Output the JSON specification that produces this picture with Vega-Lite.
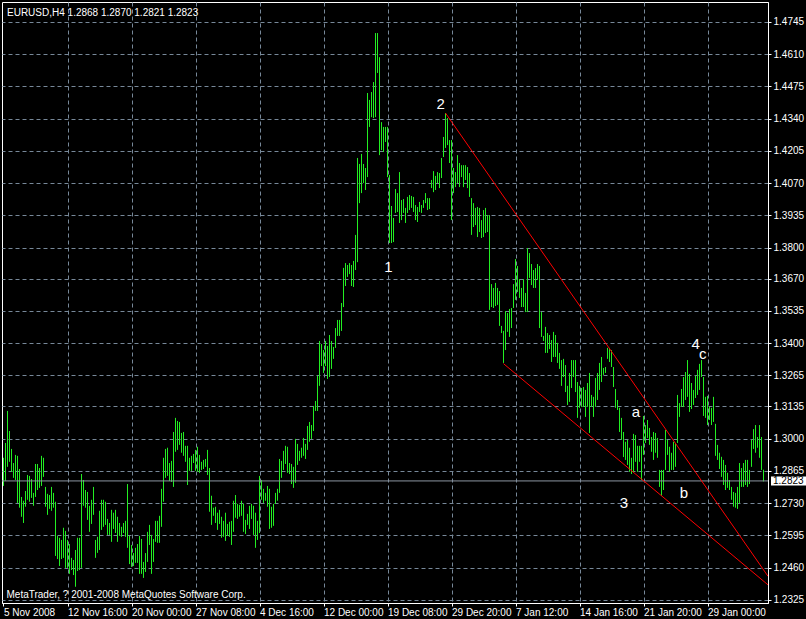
{
"$schema":"https://vega.github.io/schema/vega-lite/v6.json",
"width":766,"height":601,
"autosize":{"type":"none"},
"padding":{"left":2,"top":2,"right":38,"bottom":16},
"background":"#000000",
"view":{"stroke":"#ffffff","strokeWidth":1,"fill":"#000000"},
"config":{"axis":{"labelOverlap":false,"labelFlush":false,"labelBound":false},"axisY":{"labelOverlap":false},"axisRight":{"labelOverlap":false},"axisQuantitative":{"labelOverlap":false,"tickCount":19}},
"title":{"text":"EURUSD,H4  1.2868 1.2870 1.2821 1.2823","anchor":"start","frame":"group","orient":"top","offset":0,"baseline":"alphabetic","dx":5,"dy":24,"color":"#ffffff","font":"Liberation Sans, sans-serif","fontSize":10,"fontWeight":"normal"},
"datasets":{
"bars":[
{"i":0,"h":1.2920,"l":1.2802},{"i":1,"h":1.2982,"l":1.2823},{"i":2,"h":1.3116,"l":1.2882},{"i":3,"h":1.3032,"l":1.2903},{"i":4,"h":1.2957,"l":1.2861},{"i":5,"h":1.2898,"l":1.2836},{"i":6,"h":1.2932,"l":1.2827},{"i":7,"h":1.2928,"l":1.2731},{"i":8,"h":1.2873,"l":1.2711},{"i":9,"h":1.2756,"l":1.2673},
{"i":10,"h":1.2740,"l":1.2647},{"i":11,"h":1.2781,"l":1.2715},{"i":12,"h":1.2848,"l":1.2744},{"i":13,"h":1.2844,"l":1.2736},{"i":14,"h":1.2831,"l":1.2752},{"i":15,"h":1.2773,"l":1.2719},{"i":16,"h":1.2894,"l":1.2756},{"i":17,"h":1.2894,"l":1.2785},{"i":18,"h":1.2877,"l":1.2794},{"i":19,"h":1.2928,"l":1.2802},
{"i":20,"h":1.2920,"l":1.2840},{"i":21,"h":1.2798,"l":1.2715},{"i":22,"h":1.2769,"l":1.2681},{"i":23,"h":1.2764,"l":1.2706},{"i":24,"h":1.2798,"l":1.2698},{"i":25,"h":1.2773,"l":1.2711},{"i":26,"h":1.2736,"l":1.2509},{"i":27,"h":1.2593,"l":1.2496},{"i":28,"h":1.2585,"l":1.2467},{"i":29,"h":1.2576,"l":1.2496},
{"i":30,"h":1.2627,"l":1.2501},{"i":31,"h":1.2614,"l":1.2459},{"i":32,"h":1.2576,"l":1.2459},{"i":33,"h":1.2559,"l":1.2434},{"i":34,"h":1.2501,"l":1.2450},{"i":35,"h":1.2492,"l":1.2429},{"i":36,"h":1.2534,"l":1.2380},{"i":37,"h":1.2585,"l":1.2446},{"i":38,"h":1.2585,"l":1.2450},{"i":39,"h":1.2852,"l":1.2459},
{"i":40,"h":1.2827,"l":1.2719},{"i":41,"h":1.2785,"l":1.2711},{"i":42,"h":1.2777,"l":1.2660},{"i":43,"h":1.2719,"l":1.2610},{"i":44,"h":1.2744,"l":1.2643},{"i":45,"h":1.2798,"l":1.2681},{"i":46,"h":1.2576,"l":1.2501},{"i":47,"h":1.2589,"l":1.2522},{"i":48,"h":1.2698,"l":1.2534},{"i":49,"h":1.2744,"l":1.2618},
{"i":50,"h":1.2744,"l":1.2631},{"i":51,"h":1.2736,"l":1.2639},{"i":52,"h":1.2664,"l":1.2597},{"i":53,"h":1.2647,"l":1.2597},{"i":54,"h":1.2702,"l":1.2568},{"i":55,"h":1.2690,"l":1.2622},{"i":56,"h":1.2702,"l":1.2605},{"i":57,"h":1.2673,"l":1.2568},{"i":58,"h":1.2647,"l":1.2593},{"i":59,"h":1.2631,"l":1.2589},
{"i":60,"h":1.2647,"l":1.2605},{"i":61,"h":1.2656,"l":1.2589},{"i":62,"h":1.2810,"l":1.2543},{"i":63,"h":1.2593,"l":1.2475},{"i":64,"h":1.2555,"l":1.2463},{"i":65,"h":1.2521,"l":1.2467},{"i":66,"h":1.2543,"l":1.2480},{"i":67,"h":1.2559,"l":1.2480},{"i":68,"h":1.2593,"l":1.2434},{"i":69,"h":1.2580,"l":1.2434},
{"i":70,"h":1.2484,"l":1.2417},{"i":71,"h":1.2521,"l":1.2442},{"i":72,"h":1.2610,"l":1.2484},{"i":73,"h":1.2639,"l":1.2555},{"i":74,"h":1.2597,"l":1.2434},{"i":75,"h":1.2580,"l":1.2484},{"i":76,"h":1.2656,"l":1.2568},{"i":77,"h":1.2656,"l":1.2564},{"i":78,"h":1.2677,"l":1.2564},{"i":79,"h":1.2790,"l":1.2631},
{"i":80,"h":1.2920,"l":1.2736},{"i":81,"h":1.2957,"l":1.2836},{"i":82,"h":1.2962,"l":1.2844},{"i":83,"h":1.2898,"l":1.2823},{"i":84,"h":1.2907,"l":1.2819},{"i":85,"h":1.3028,"l":1.2798},{"i":86,"h":1.3087,"l":1.2945},{"i":87,"h":1.3074,"l":1.2953},{"i":88,"h":1.3070,"l":1.2974},{"i":89,"h":1.3024,"l":1.2941},
{"i":90,"h":1.3028,"l":1.2928},{"i":91,"h":1.2970,"l":1.2903},{"i":92,"h":1.2970,"l":1.2806},{"i":93,"h":1.2920,"l":1.2865},{"i":94,"h":1.2928,"l":1.2865},{"i":95,"h":1.2936,"l":1.2898},{"i":96,"h":1.2953,"l":1.2865},{"i":97,"h":1.2966,"l":1.2861},{"i":98,"h":1.2932,"l":1.2857},{"i":99,"h":1.2903,"l":1.2869},
{"i":100,"h":1.2911,"l":1.2873},{"i":101,"h":1.2915,"l":1.2882},{"i":102,"h":1.2953,"l":1.2848},{"i":103,"h":1.2877,"l":1.2694},{"i":104,"h":1.2761,"l":1.2639},{"i":105,"h":1.2711,"l":1.2677},{"i":106,"h":1.2715,"l":1.2647},{"i":107,"h":1.2690,"l":1.2618},{"i":108,"h":1.2702,"l":1.2643},{"i":109,"h":1.2673,"l":1.2585},
{"i":110,"h":1.2656,"l":1.2589},{"i":111,"h":1.2690,"l":1.2572},{"i":112,"h":1.2643,"l":1.2593},{"i":113,"h":1.2652,"l":1.2589},{"i":114,"h":1.2656,"l":1.2555},{"i":115,"h":1.2740,"l":1.2610},{"i":116,"h":1.2764,"l":1.2669},{"i":117,"h":1.2727,"l":1.2664},{"i":118,"h":1.2723,"l":1.2673},{"i":119,"h":1.2740,"l":1.2677},
{"i":120,"h":1.2727,"l":1.2610},{"i":121,"h":1.2660,"l":1.2601},{"i":122,"h":1.2685,"l":1.2639},{"i":123,"h":1.2719,"l":1.2622},{"i":124,"h":1.2727,"l":1.2664},{"i":125,"h":1.2719,"l":1.2597},{"i":126,"h":1.2690,"l":1.2543},{"i":127,"h":1.2656,"l":1.2576},{"i":128,"h":1.2844,"l":1.2605},{"i":129,"h":1.2827,"l":1.2744},
{"i":130,"h":1.2790,"l":1.2731},{"i":131,"h":1.2773,"l":1.2740},{"i":132,"h":1.2802,"l":1.2715},{"i":133,"h":1.2790,"l":1.2622},{"i":134,"h":1.2715,"l":1.2627},{"i":135,"h":1.2727,"l":1.2635},{"i":136,"h":1.2773,"l":1.2727},{"i":137,"h":1.2790,"l":1.2740},{"i":138,"h":1.2915,"l":1.2773},{"i":139,"h":1.2907,"l":1.2836},
{"i":140,"h":1.2949,"l":1.2869},{"i":141,"h":1.2970,"l":1.2894},{"i":142,"h":1.2966,"l":1.2857},{"i":143,"h":1.2898,"l":1.2852},{"i":144,"h":1.2894,"l":1.2810},{"i":145,"h":1.2882,"l":1.2794},{"i":146,"h":1.2999,"l":1.2815},{"i":147,"h":1.2978,"l":1.2890},{"i":148,"h":1.2949,"l":1.2907},{"i":149,"h":1.2962,"l":1.2920},
{"i":150,"h":1.3003,"l":1.2928},{"i":151,"h":1.2978,"l":1.2915},{"i":152,"h":1.3053,"l":1.2953},{"i":153,"h":1.3070,"l":1.2987},{"i":154,"h":1.3057,"l":1.2999},{"i":155,"h":1.3137,"l":1.3032},{"i":156,"h":1.3158,"l":1.3116},{"i":157,"h":1.3263,"l":1.3116},{"i":158,"h":1.3409,"l":1.3221},{"i":159,"h":1.3396,"l":1.3304},
{"i":160,"h":1.3371,"l":1.3275},{"i":161,"h":1.3409,"l":1.3304},{"i":162,"h":1.3388,"l":1.3250},{"i":163,"h":1.3434,"l":1.3258},{"i":164,"h":1.3409,"l":1.3292},{"i":165,"h":1.3384,"l":1.3334},{"i":166,"h":1.3463,"l":1.3380},{"i":167,"h":1.3497,"l":1.3430},{"i":168,"h":1.3497,"l":1.3430},{"i":169,"h":1.3568,"l":1.3451},
{"i":170,"h":1.3715,"l":1.3551},{"i":171,"h":1.3735,"l":1.3639},{"i":172,"h":1.3727,"l":1.3677},{"i":173,"h":1.3735,"l":1.3689},{"i":174,"h":1.3727,"l":1.3639},{"i":175,"h":1.3744,"l":1.3635},{"i":176,"h":1.3853,"l":1.3706},{"i":177,"h":1.4175,"l":1.3739},{"i":178,"h":1.4150,"l":1.3986},{"i":179,"h":1.4192,"l":1.4028},
{"i":180,"h":1.4150,"l":1.4070},{"i":181,"h":1.4133,"l":1.4041},{"i":182,"h":1.4447,"l":1.4095},{"i":183,"h":1.4418,"l":1.4305},{"i":184,"h":1.4451,"l":1.4346},{"i":185,"h":1.4493,"l":1.4342},{"i":186,"h":1.4698,"l":1.4346},{"i":187,"h":1.4698,"l":1.4531},{"i":188,"h":1.4597,"l":1.4187},{"i":189,"h":1.4325,"l":1.4208},
{"i":190,"h":1.4305,"l":1.4200},{"i":191,"h":1.4305,"l":1.4242},{"i":192,"h":1.4305,"l":1.4095},{"i":193,"h":1.4104,"l":1.3819},{"i":194,"h":1.3974,"l":1.3819},{"i":195,"h":1.3924,"l":1.3823},{"i":196,"h":1.4045,"l":1.3945},{"i":197,"h":1.4028,"l":1.3949},{"i":198,"h":1.4116,"l":1.3903},{"i":199,"h":1.3999,"l":1.3915},
{"i":200,"h":1.4003,"l":1.3945},{"i":201,"h":1.3966,"l":1.3903},{"i":202,"h":1.4012,"l":1.3945},{"i":203,"h":1.4020,"l":1.3957},{"i":204,"h":1.4016,"l":1.3966},{"i":205,"h":1.4012,"l":1.3949},{"i":206,"h":1.3978,"l":1.3915},{"i":207,"h":1.3970,"l":1.3907},{"i":208,"h":1.3991,"l":1.3949},{"i":209,"h":1.3978,"l":1.3945},
{"i":210,"h":1.3999,"l":1.3966},{"i":211,"h":1.4028,"l":1.3986},{"i":212,"h":1.4007,"l":1.3957},{"i":213,"h":1.4007,"l":1.3961},{"i":214,"h":1.4083,"l":1.4049},{"i":215,"h":1.4120,"l":1.4032},{"i":216,"h":1.4100,"l":1.4041},{"i":217,"h":1.4116,"l":1.4070},{"i":218,"h":1.4112,"l":1.4049},{"i":219,"h":1.4175,"l":1.4091},
{"i":220,"h":1.4263,"l":1.4179},{"i":221,"h":1.4363,"l":1.4217},{"i":222,"h":1.4342,"l":1.4229},{"i":223,"h":1.4250,"l":1.4154},{"i":224,"h":1.4250,"l":1.3915},{"i":225,"h":1.4133,"l":1.4028},{"i":226,"h":1.4116,"l":1.4053},{"i":227,"h":1.4187,"l":1.4070},{"i":228,"h":1.4154,"l":1.4053},{"i":229,"h":1.4145,"l":1.4095},
{"i":230,"h":1.4145,"l":1.4053},{"i":231,"h":1.4145,"l":1.4083},{"i":232,"h":1.4137,"l":1.4049},{"i":233,"h":1.4112,"l":1.4012},{"i":234,"h":1.4007,"l":1.3853},{"i":235,"h":1.3986,"l":1.3886},{"i":236,"h":1.3966,"l":1.3894},{"i":237,"h":1.3970,"l":1.3844},{"i":238,"h":1.3966,"l":1.3865},{"i":239,"h":1.3915,"l":1.3840},
{"i":240,"h":1.3957,"l":1.3844},{"i":241,"h":1.3966,"l":1.3861},{"i":242,"h":1.3936,"l":1.3865},{"i":243,"h":1.3936,"l":1.3539},{"i":244,"h":1.3647,"l":1.3551},{"i":245,"h":1.3631,"l":1.3547},{"i":246,"h":1.3652,"l":1.3555},{"i":247,"h":1.3631,"l":1.3560},{"i":248,"h":1.3618,"l":1.3472},{"i":249,"h":1.3472,"l":1.3442},
{"i":250,"h":1.3451,"l":1.3317},{"i":251,"h":1.3534,"l":1.3371},{"i":252,"h":1.3526,"l":1.3447},{"i":253,"h":1.3543,"l":1.3426},{"i":254,"h":1.3547,"l":1.3463},{"i":255,"h":1.3647,"l":1.3547},{"i":256,"h":1.3752,"l":1.3581},{"i":257,"h":1.3723,"l":1.3614},{"i":258,"h":1.3668,"l":1.3589},{"i":259,"h":1.3631,"l":1.3551},
{"i":260,"h":1.3668,"l":1.3551},{"i":261,"h":1.3610,"l":1.3530},{"i":262,"h":1.3798,"l":1.3530},{"i":263,"h":1.3777,"l":1.3673},{"i":264,"h":1.3731,"l":1.3643},{"i":265,"h":1.3706,"l":1.3631},{"i":266,"h":1.3714,"l":1.3631},{"i":267,"h":1.3731,"l":1.3664},{"i":268,"h":1.3723,"l":1.3463},{"i":269,"h":1.3530,"l":1.3426},
{"i":270,"h":1.3430,"l":1.3409},{"i":271,"h":1.3468,"l":1.3359},{"i":272,"h":1.3442,"l":1.3359},{"i":273,"h":1.3434,"l":1.3375},{"i":274,"h":1.3413,"l":1.3321},{"i":275,"h":1.3447,"l":1.3342},{"i":276,"h":1.3434,"l":1.3342},{"i":277,"h":1.3401,"l":1.3317},{"i":278,"h":1.3359,"l":1.3292},{"i":279,"h":1.3329,"l":1.3221},
{"i":280,"h":1.3334,"l":1.3258},{"i":281,"h":1.3308,"l":1.3195},{"i":282,"h":1.3221,"l":1.3141},{"i":283,"h":1.3275,"l":1.3154},{"i":284,"h":1.3329,"l":1.3212},{"i":285,"h":1.3329,"l":1.3258},{"i":286,"h":1.3329,"l":1.3195},{"i":287,"h":1.3237,"l":1.3087},{"i":288,"h":1.3221,"l":1.3129},{"i":289,"h":1.3212,"l":1.3133},
{"i":290,"h":1.3216,"l":1.3133},{"i":291,"h":1.3204,"l":1.3091},{"i":292,"h":1.3233,"l":1.3133},{"i":293,"h":1.3275,"l":1.3024},{"i":294,"h":1.3183,"l":1.3133},{"i":295,"h":1.3175,"l":1.3091},{"i":296,"h":1.3254,"l":1.3133},{"i":297,"h":1.3275,"l":1.3162},{"i":298,"h":1.3317,"l":1.3204},{"i":299,"h":1.3342,"l":1.3237},
{"i":300,"h":1.3296,"l":1.3267},{"i":301,"h":1.3300,"l":1.3275},{"i":302,"h":1.3380,"l":1.3334},{"i":303,"h":1.3380,"l":1.3321},{"i":304,"h":1.3371,"l":1.3300},{"i":305,"h":1.3300,"l":1.3216},{"i":306,"h":1.3208,"l":1.3129},{"i":307,"h":1.3162,"l":1.3120},{"i":308,"h":1.3129,"l":1.3028},{"i":309,"h":1.3087,"l":1.2995},
{"i":310,"h":1.3028,"l":1.2923},{"i":311,"h":1.2987,"l":1.2911},{"i":312,"h":1.2995,"l":1.2890},{"i":313,"h":1.2962,"l":1.2861},{"i":314,"h":1.2920,"l":1.2852},{"i":315,"h":1.3020,"l":1.2861},{"i":316,"h":1.3015,"l":1.2903},{"i":317,"h":1.2970,"l":1.2861},{"i":318,"h":1.2970,"l":1.2903},{"i":319,"h":1.2970,"l":1.2827},
{"i":320,"h":1.3095,"l":1.2932},{"i":321,"h":1.3057,"l":1.2982},{"i":322,"h":1.3078,"l":1.3003},{"i":323,"h":1.3045,"l":1.2974},{"i":324,"h":1.3007,"l":1.2945},{"i":325,"h":1.3028,"l":1.2911},{"i":326,"h":1.3024,"l":1.2941},{"i":327,"h":1.3003,"l":1.2920},{"i":328,"h":1.2869,"l":1.2798},{"i":329,"h":1.2869,"l":1.2761},
{"i":330,"h":1.2869,"l":1.2785},{"i":331,"h":1.3036,"l":1.2869},{"i":332,"h":1.2995,"l":1.2932},{"i":333,"h":1.2966,"l":1.2861},{"i":334,"h":1.2941,"l":1.2869},{"i":335,"h":1.2987,"l":1.2869},{"i":336,"h":1.2982,"l":1.2882},{"i":337,"h":1.3183,"l":1.2982},{"i":338,"h":1.3149,"l":1.3091},{"i":339,"h":1.3208,"l":1.3133},
{"i":340,"h":1.3258,"l":1.3133},{"i":341,"h":1.3279,"l":1.3162},{"i":342,"h":1.3329,"l":1.3175},{"i":343,"h":1.3271,"l":1.3112},{"i":344,"h":1.3233,"l":1.3124},{"i":345,"h":1.3204,"l":1.3141},{"i":346,"h":1.3263,"l":1.3170},{"i":347,"h":1.3288,"l":1.3183},{"i":348,"h":1.3313,"l":1.3204},{"i":349,"h":1.3329,"l":1.3258},
{"i":350,"h":1.3258,"l":1.3095},{"i":351,"h":1.3175,"l":1.3087},{"i":352,"h":1.3179,"l":1.3057},{"i":353,"h":1.3133,"l":1.3078},{"i":354,"h":1.3129,"l":1.3057},{"i":355,"h":1.3175,"l":1.3070},{"i":356,"h":1.3062,"l":1.2928},{"i":357,"h":1.2974,"l":1.2911},{"i":358,"h":1.2941,"l":1.2873},{"i":359,"h":1.2924,"l":1.2840},
{"i":360,"h":1.2911,"l":1.2806},{"i":361,"h":1.2890,"l":1.2785},{"i":362,"h":1.2857,"l":1.2794},{"i":363,"h":1.2827,"l":1.2785},{"i":364,"h":1.2798,"l":1.2744},{"i":365,"h":1.2777,"l":1.2715},{"i":366,"h":1.2773,"l":1.2711},{"i":367,"h":1.2798,"l":1.2706},{"i":368,"h":1.2898,"l":1.2731},{"i":369,"h":1.2877,"l":1.2798},
{"i":370,"h":1.2898,"l":1.2798},{"i":371,"h":1.2911,"l":1.2806},{"i":372,"h":1.2911,"l":1.2798},{"i":373,"h":1.2869,"l":1.2810},{"i":374,"h":1.2995,"l":1.2882},{"i":375,"h":1.3040,"l":1.2957},{"i":376,"h":1.3057,"l":1.2941},{"i":377,"h":1.3007,"l":1.2962},{"i":378,"h":1.3057,"l":1.2920},{"i":379,"h":1.3007,"l":1.2869},
{"i":380,"h":1.2870,"l":1.2821}
],
"last":[{"last":1.2823}],
"trend":[
{"seg":"upper","i":221,"p":1.4363},{"seg":"upper","i":382.25,"p":1.2424},
{"seg":"lower","i":250,"p":1.3314},{"seg":"lower","i":382.25,"p":1.2388}
],
"waves":[
{"t":"1","i":192.4,"p":1.3720},{"t":"2","i":218.6,"p":1.4400},{"t":"3","i":310.25,"p":1.2731},{"t":"4","i":346.1,"p":1.3395},{"t":"a","i":316.25,"p":1.3113},{"t":"b","i":340.25,"p":1.2774},{"t":"c","i":349.6,"p":1.3355}
]
},
"layer":[
{"data":{"name":"bars"},
 "mark":{"type":"rule","color":"#22ee22","strokeWidth":1},
 "encoding":{
  "x":{"field":"i","type":"quantitative",
   "scale":{"domain":[-0.75,382.25],"nice":false,"zero":false},
   "axis":{"values":[0,16,32,48,64,80,96,112,128,144,160,176,192,208,224,240,256,272,288,304,320,336,352,368],
    "grid":true,"gridColor":"#778899","gridDash":[4,3],
    "gridOpacity":{"condition":{"test":"datum.value === 0","value":0},"value":1},
    "tickOpacity":{"condition":{"test":"datum.value % 32 !== 0","value":0},"value":1},
    "tickColor":"#ffffff","tickSize":3,"domainColor":"#ffffff",
    "labelExpr":"datum.value % 32 === 0 ? ['5 Nov 2008','12 Nov 16:00','20 Nov 00:00','27 Nov 08:00','4 Dec 16:00','12 Dec 00:00','19 Dec 08:00','29 Dec 20:00','7 Jan 12:00','14 Jan 16:00','21 Jan 20:00','29 Jan 00:00'][datum.value/32] : ''",
    "labelAlign":"left","labelBaseline":"top","labelPadding":1,"labelColor":"#ffffff",
    "labelFont":"Liberation Sans, sans-serif","labelFontSize":10,
    "labelFlush":false,"labelOverlap":false,"labelBound":false,
    "title":"MetaTrader, ? 2001-2008 MetaQuotes Software Corp.",
    "titleAnchor":"start","titleAlign":"left","titleX":4,"titleY":-6,"titleBaseline":"alphabetic",
    "titleColor":"#ffffff","titleFont":"Liberation Sans, sans-serif","titleFontSize":10,"titleFontWeight":"normal"}},
  "y":{"field":"h","type":"quantitative",
   "scale":{"domain":[1.2312,1.4828],"nice":false,"zero":false},
   "axis":{"orient":"right","values":[1.4745,1.461,1.4475,1.434,1.4205,1.407,1.3935,1.38,1.367,1.3535,1.34,1.3265,1.3135,1.3,1.2865,1.273,1.2595,1.246,1.2325],
    "format":".4f","grid":true,"gridColor":"#778899","gridDash":[4,3],"tickCount":19,
    "tickColor":"#ffffff","tickSize":3,"domainColor":"#ffffff",
    "labelColor":"#ffffff","labelFont":"Liberation Sans, sans-serif","labelFontSize":10,"labelSeparation":0,
    "labelPadding":2,"labelAlign":"left","labelBaseline":"middle","labelFlush":false,"labelOverlap":false,"labelBound":false,"title":null}},
  "y2":{"field":"l"}
 }},
{"data":{"name":"last"},
 "mark":{"type":"rule","color":"#8c96a2","strokeWidth":1},
 "encoding":{"y":{"field":"last","type":"quantitative"}}},
{"data":{"name":"trend"},
 "mark":{"type":"line","color":"#ff0000","strokeWidth":1,"clip":true},
 "encoding":{"x":{"field":"i","type":"quantitative"},"y":{"field":"p","type":"quantitative"},"detail":{"field":"seg"}}},
{"data":{"name":"waves"},
 "mark":{"type":"text","color":"#ffffff","font":"Liberation Sans, sans-serif","fontSize":15,"align":"center","baseline":"middle"},
 "encoding":{"x":{"field":"i","type":"quantitative"},"y":{"field":"p","type":"quantitative"},"text":{"field":"t"}}},
{"data":{"name":"last"},
 "mark":{"type":"rule","color":"#ffffff","strokeWidth":9,"strokeCap":"butt","clip":false},
 "encoding":{"x":{"datum":383.75},"x2":{"datum":401.25},"y":{"field":"last","type":"quantitative"}}},
{"data":{"name":"last"},
 "mark":{"type":"text","color":"#000000","font":"Liberation Sans, sans-serif","fontSize":10,"align":"left","baseline":"middle","clip":false},
 "encoding":{"x":{"datum":384.75},"y":{"field":"last","type":"quantitative"},"text":{"field":"last","type":"quantitative","format":".4f"}}}
]
}
